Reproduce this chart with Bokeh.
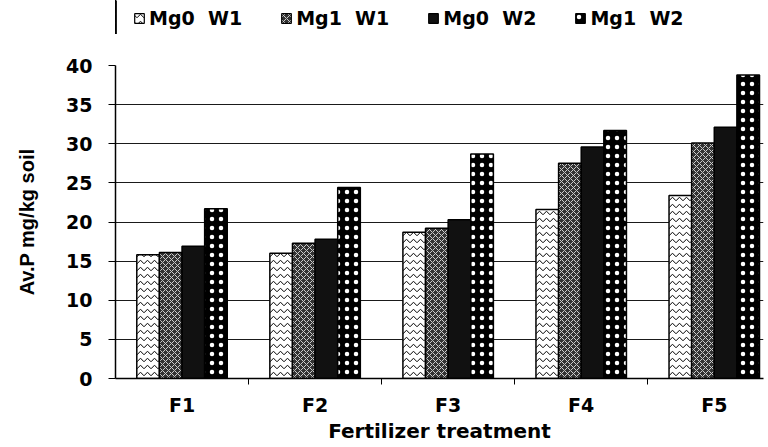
import numpy as np
from bokeh.plotting import figure
from bokeh.layouts import column
from bokeh.models import FixedTicker, Legend, LegendItem, ColumnDataSource
from bokeh.transform import dodge
from bokeh.embed import file_html
from bokeh.resources import INLINE

categories = ["F1", "F2", "F3", "F4", "F5"]
series_names = ["Mg0  W1", "Mg1  W1", "Mg0  W2", "Mg1  W2"]
mg0_w1 = [15.8, 16.0, 18.7, 21.6, 23.4]
mg1_w1 = [16.1, 17.3, 19.2, 27.5, 30.1]
mg0_w2 = [16.9, 17.8, 20.3, 29.6, 32.1]
mg1_w2 = [21.7, 24.4, 28.7, 31.7, 38.8]
y_ticks = [0, 5, 10, 15, 20, 25, 30, 35, 40]

centers = np.arange(len(categories)) + 0.5
src = ColumnDataSource(dict(x=centers, mg0_w1=mg0_w1, mg1_w1=mg1_w1,
                            mg0_w2=mg0_w2, mg1_w2=mg1_w2))
cols = ["mg0_w1", "mg1_w1", "mg0_w2", "mg1_w2"]
offsets = [-0.255, -0.085, 0.085, 0.255]
styles = [
    dict(fill_color="white", hatch_pattern="horizontal_wave", hatch_color="black",
         hatch_scale=7, hatch_weight=1),
    dict(fill_color="#333333", hatch_pattern="diagonal_cross", hatch_color="#cccccc",
         hatch_scale=6, hatch_weight=1),
    dict(fill_color="#111111"),
    dict(fill_color="black", hatch_pattern="dot", hatch_color="white",
         hatch_scale=9, hatch_weight=3),
]

LEG_H = 34

# ---- legend strip (separate small figure above the chart) ----
# the same bars are drawn here but lie far outside this strip's x range, so only the legend shows
lg = figure(width=768, height=LEG_H, x_range=(50, 51), y_range=(0, 1),
            output_backend="svg", toolbar_location=None,
            x_axis_location=None, y_axis_location=None, min_border=0)
lg.outline_line_color = None
lg.grid.visible = False
leg_renderers = [lg.vbar(x=dodge("x", off), top=col, width=0.17, source=src,
                         line_color="black", line_width=1.2, **st)
                 for col, off, st in zip(cols, offsets, styles)]
legend = Legend(items=[LegendItem(label=n, renderers=[r]) for n, r in zip(series_names, leg_renderers)],
                orientation="horizontal", location=(18, 5), margin=0, padding=0,
                spacing=38, glyph_width=12, glyph_height=12, label_standoff=4,
                label_text_font="DejaVu Sans", label_text_font_style="bold",
                label_text_font_size="19px", label_text_color="black",
                border_line_color=None, background_fill_alpha=0)
lg.add_layout(legend)

# ---- main chart ----
p = figure(width=768, height=447 - LEG_H, x_range=(0, 4.87), y_range=(0, 40),
           output_backend="svg", toolbar_location=None,
           min_border_left=115, min_border_right=5, min_border_top=65 - LEG_H,
           min_border_bottom=69)
p.outline_line_color = None

for col, off, st in zip(cols, offsets, styles):
    p.vbar(x=dodge("x", off), top=col, width=0.17, source=src,
           line_color="black", line_width=1.5, **st)

# y axis
p.yaxis.ticker = FixedTicker(ticks=y_ticks)
p.yaxis.major_tick_out = 7
p.yaxis.major_tick_in = 0
p.yaxis.minor_tick_out = 0
p.yaxis.axis_line_color = "black"
p.yaxis.axis_line_width = 1.5
p.yaxis.major_tick_line_color = "black"
p.yaxis.major_label_standoff = 16
p.yaxis.major_label_text_font = "DejaVu Sans"
p.yaxis.major_label_text_font_style = "bold"
p.yaxis.major_label_text_font_size = "19px"
p.yaxis.major_label_text_color = "black"
p.yaxis.axis_label = "Av.P mg/kg soil"
p.yaxis.axis_label_text_font = "Liberation Sans"
p.yaxis.axis_label_text_font_style = "bold"
p.yaxis.axis_label_text_font_size = "20px"
p.yaxis.axis_label_text_color = "black"
p.yaxis.axis_label_standoff = 25

# x axis
p.xaxis.ticker = FixedTicker(ticks=list(centers), minor_ticks=[1, 2, 3, 4])
p.xaxis.major_label_overrides = {float(c): lab for c, lab in zip(centers, categories)}
p.xaxis.major_tick_out = 0
p.xaxis.major_tick_in = 0
p.xaxis.minor_tick_out = 6
p.xaxis.minor_tick_in = 0
p.xaxis.minor_tick_line_color = "black"
p.xaxis.axis_line_color = "black"
p.xaxis.axis_line_width = 1.5
p.xaxis.major_label_standoff = 9
p.xaxis.major_label_text_font = "DejaVu Sans"
p.xaxis.major_label_text_font_style = "bold"
p.xaxis.major_label_text_font_size = "19px"
p.xaxis.major_label_text_color = "black"
p.xaxis.axis_label = "Fertilizer treatment"
p.xaxis.axis_label_text_font = "DejaVu Sans"
p.xaxis.axis_label_text_font_style = "bold"
p.xaxis.axis_label_text_font_size = "20px"
p.xaxis.axis_label_text_color = "black"
p.xaxis.axis_label_standoff = 0

p.xgrid.visible = False
p.ygrid.grid_line_color = "#1a1a1a"
p.ygrid.grid_line_width = 1

layout = column(lg, p, spacing=0)
open("out.html", "w").write(file_html(layout, INLINE))
